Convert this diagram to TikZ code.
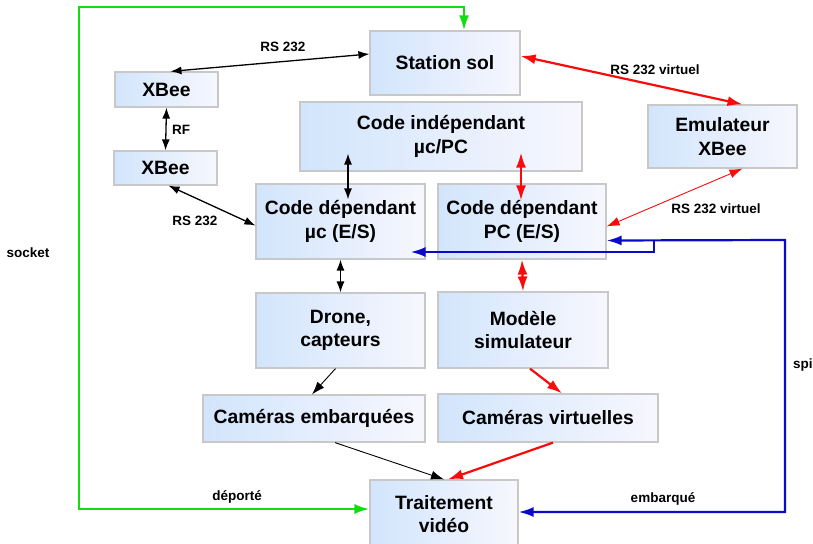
\documentclass[tikz,border=0pt]{standalone}
\usepackage{fontspec}
\setmainfont{Liberation Sans}
\usetikzlibrary{positioning, arrows.meta}

\definecolor{boxblue}{RGB}{210,229,252}
\definecolor{boxwhite}{RGB}{247,247,254}
\definecolor{boxgray}{RGB}{200,200,200}
\definecolor{linkgreen}{RGB}{17,221,17}
\definecolor{linkred}{RGB}{250,10,10}
\definecolor{linkblue}{RGB}{10,10,200}

\begin{document}
\begin{tikzpicture}
    [
        x=1pt, y=-1pt,
        box_node/.style={rectangle, draw=boxgray, line width=1.2pt, left color=boxblue, right color=boxwhite, inner sep=0pt, align=center, font=\fontsize{19.3}{23.5}\selectfont\bfseries},
        link_label/.style={inner sep=0pt, font=\fontsize{13.5}{15}\selectfont\bfseries},
        black_link/.style={line width=1.3pt, color=black, >={Latex[length=11pt, width=8pt]}},
        thin_link/.style={line width=0.9pt, >={Latex[length=13pt, width=9pt]}},
        red_link/.style={line width=2.2pt, color=linkred, >={Latex[length=15pt, width=10pt]}},
        green_link/.style={line width=2.2pt, color=linkgreen, >={Latex[length=15pt, width=10pt]}},
        blue_link/.style={line width=2.2pt, color=linkblue, >={Latex[length=15pt, width=10pt]}},
    ]
        \useasboundingbox (0,0) rectangle (813,543) ;
        % boxes
        \node[box_node, minimum width=150pt, minimum height=64pt] (station) at (445,63) {Station sol} ;
        \node[box_node, minimum width=103pt, minimum height=35pt] (xbeeA) at (166.5,89.5) {XBee} ;
        \node[box_node, minimum width=103pt, minimum height=34pt] (xbeeB) at (165.5,168) {XBee} ;
        \node[box_node, minimum width=282pt, minimum height=69pt] (indep) at (441,136.5) {Code indépendant\\µc/PC} ;
        \node[box_node, minimum width=149pt, minimum height=63pt] (emul) at (722.5,136.5) {Emulateur\\XBee} ;
        \node[box_node, minimum width=169pt, minimum height=75pt] (depuc) at (340.5,221.5) {Code dépendant\\µc (E/S)} ;
        \node[box_node, minimum width=168pt, minimum height=75pt] (deppc) at (522,221.5) {Code dépendant\\PC (E/S)} ;
        \node[box_node, minimum width=169pt, minimum height=75pt] (drone) at (340.5,330.5) {Drone,\\capteurs} ;
        \node[box_node, minimum width=170pt, minimum height=76pt] (modele) at (523,330) {Modèle\\simulateur} ;
        \node[box_node, minimum width=222pt, minimum height=47pt] (camemb) at (314,418.5) {Caméras embarquées} ;
        \node[box_node, minimum width=220pt, minimum height=48pt] (camvirt) at (548,418) {Caméras virtuelles} ;
        \node[box_node, minimum width=148pt, minimum height=68pt] (traite) at (444,514) {Traitement\\vidéo} ;
        % corners of the long links
        \coordinate (socketcorner) at (79,7) ;
        \coordinate (spicorner) at (785,240) ;
        \coordinate (spifork) at (654,240) ;
        % black links
        \draw[<->, black_link] ([xshift=4pt]xbeeA.north) to ([yshift=9pt]station.west) ;
        \draw[<->, black_link] (xbeeA.south) to (xbeeB.north) ;
        \draw[<->, black_link] ([xshift=3pt]xbeeB.south) to ([yshift=-4pt]depuc.west) ;
        \draw[<->, black_link] ([shift={(-93pt,18pt)}]indep.south) to ([shift={(7.5pt,-16pt)}]depuc.north) ;
        \draw[<->, black_link] (depuc.south) to (drone.north) ;
        \draw[->, thin_link] ([xshift=-5pt]drone.south) to ([xshift=-2pt]camemb.north) ;
        \draw[->, thin_link] ([xshift=21pt]camemb.south) to (traite.north) ;
        % red links
        \draw[<->, red_link] ([yshift=7pt]station.east) to ([xshift=20pt]emul.north) ;
        \draw[<->, red_link, thin_link] ([xshift=20pt]emul.south) to ([yshift=-5pt]deppc.east) ;
        \draw[<->, red_link] ([shift={(80pt,19pt)}]indep.south) to ([shift={(-1pt,-17pt)}]deppc.north) ;
        \draw[<->, red_link] (deppc.south) to (modele.north) ;
        \draw[->, red_link] ([xshift=7pt]modele.south) to ([xshift=14pt]camvirt.north) ;
        \draw[->, red_link] ([xshift=5pt]camvirt.south) to ([xshift=4pt]traite.north) ;
        % socket and spi
        \draw[<->, green_link] ([xshift=19pt]station.north) |- (socketcorner) |- ([yshift=5pt]traite.west) ;
        \draw[<->, blue_link] ([yshift=2pt]traite.east) -| (spicorner) -- ([yshift=-19pt]deppc.east) ;
        \draw[->, blue_link] (spifork) |- ([shift={(-15pt,-30.5pt)}]depuc.east) ;
        % link labels
        \node[link_label] (lrsA) at (283,47) {RS 232} ;
        \node[link_label] (lrf) at (181,130) {RF} ;
        \node[link_label] (lrsB) at (195,221) {RS 232} ;
        \node[link_label] (lvirtA) at (655,70) {RS 232 virtuel} ;
        \node[link_label] (lvirtB) at (716,209) {RS 232 virtuel} ;
        \node[link_label] (lsocket) at (28,253) {socket} ;
        \node[link_label] (ldeporte) at (237,497) {déporté} ;
        \node[link_label] (lembarque) at (663,499) {embarqué} ;
        \node[link_label, anchor=west] (lspi) at (793,365) {spi} ;
    \end{tikzpicture}
\end{document}
